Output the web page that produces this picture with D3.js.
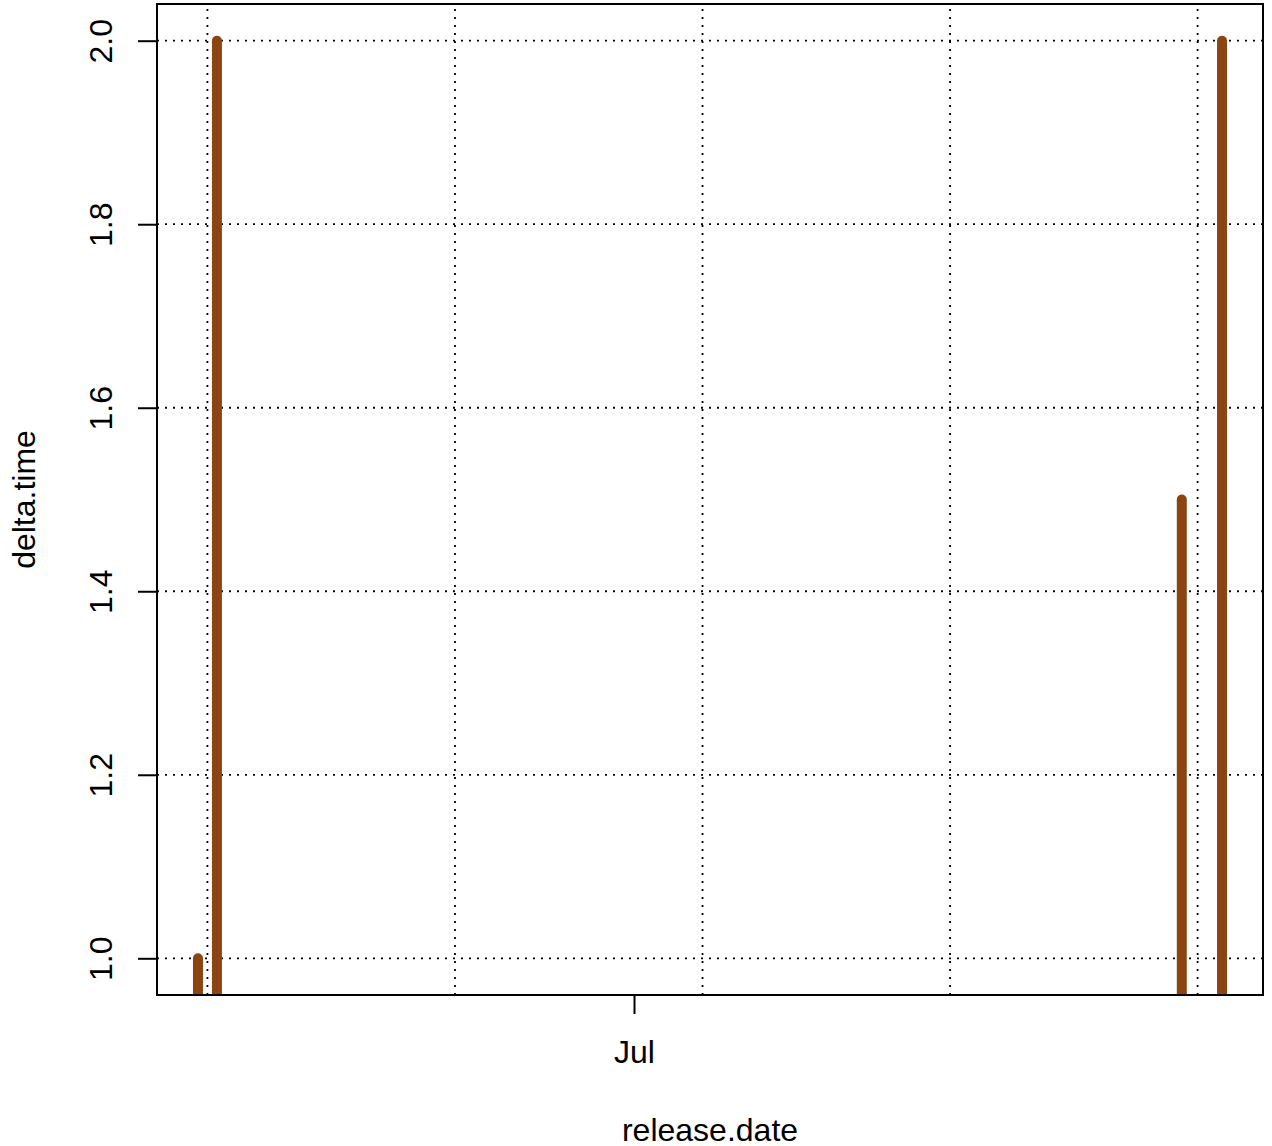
<!DOCTYPE html>
<html>
<head>
<meta charset="utf-8">
<script src="https://cdn.jsdelivr.net/npm/d3@7"></script>
<style>
  html, body { margin: 0; padding: 0; background: #ffffff; }
  svg { display: block; }
  text { font-family: "Liberation Sans", Arial, Helvetica, sans-serif; fill: #000; }
</style>
</head>
<body>
<svg id="chart" width="1272" height="1146"></svg>
<script>
// ---- data ----
const releaseDates = [
  "2015-06-10T18:43:00Z",
  "2015-06-11T16:00:00Z",
  "2015-07-26T18:40:00Z",
  "2015-07-28T15:50:00Z"
];
const deltaTime = [1, 2, 1.5, 2];

const yTickValues = [1.0, 1.2, 1.4, 1.6, 1.8, 2.0];
const xTickDates = ["2015-07-01T00:00:00-04:00"];
const xTickLabels = ["Jul"];

const xLabel = "release.date";
const yLabel = "delta.time";

// ---- layout ----
const W = 1272, H = 1146;
const plot = { left: 157, right: 1263, top: 4, bottom: 995 };
const barColor = "#8B4513";

const svg = d3.select("#chart");

const dates = releaseDates.map(d => new Date(d));
const tMin = d3.min(dates).getTime(), tMax = d3.max(dates).getTime();
const tPad = (tMax - tMin) * 0.04;
const x = d3.scaleTime()
  .domain([new Date(tMin - tPad), new Date(tMax + tPad)])
  .range([plot.left, plot.right]);

const yMin = d3.min(deltaTime), yMax = d3.max(deltaTime);
const yPad = (yMax - yMin) * 0.04;
const y = d3.scaleLinear()
  .domain([yMin - yPad, yMax + yPad])
  .range([plot.bottom, plot.top]);

// clip path for plot region
svg.append("defs").append("clipPath").attr("id", "clip")
  .append("rect")
  .attr("x", plot.left).attr("y", plot.top)
  .attr("width", plot.right - plot.left)
  .attr("height", plot.bottom - plot.top);

// grid: vertical lines at numeric (seconds) pretty ticks, as R's grid() does
const secDomain = x.domain().map(d => d.getTime() / 1000);
const gridSecs = d3.ticks(secDomain[0], secDomain[1], 5);
const grid = svg.append("g").attr("clip-path", "url(#clip)");
grid.selectAll("line.vg").data(gridSecs).enter().append("line")
  .attr("class", "vg")
  .attr("x1", d => x(new Date(d * 1000))).attr("x2", d => x(new Date(d * 1000)))
  .attr("y1", plot.bottom).attr("y2", plot.top)
  .attr("stroke", "#000").attr("stroke-width", 1.8)
  .attr("stroke-dasharray", "2,6");
grid.selectAll("line.hg").data(yTickValues).enter().append("line")
  .attr("class", "hg")
  .attr("x1", plot.left).attr("x2", plot.right)
  .attr("y1", d => y(d)).attr("y2", d => y(d))
  .attr("stroke", "#000").attr("stroke-width", 1.8)
  .attr("stroke-dasharray", "2,6");

// bars (type = "h")
const bars = svg.append("g").attr("clip-path", "url(#clip)");
bars.selectAll("line.bar").data(dates.map((d, i) => ({ d, v: deltaTime[i] })))
  .enter().append("line")
  .attr("class", "bar")
  .attr("x1", d => x(d.d)).attr("x2", d => x(d.d))
  .attr("y1", y(0)).attr("y2", d => y(d.v))
  .attr("stroke", barColor).attr("stroke-width", 10)
  .attr("stroke-linecap", "round");

// box
svg.append("rect")
  .attr("x", plot.left).attr("y", plot.top)
  .attr("width", plot.right - plot.left)
  .attr("height", plot.bottom - plot.top)
  .attr("fill", "none").attr("stroke", "#000").attr("stroke-width", 2);

// y axis
const yAxis = d3.axisLeft(y).tickValues(yTickValues).tickSize(19).tickPadding(0)
  .tickFormat(d3.format(".1f"));
const gy = svg.append("g").attr("transform", `translate(${plot.left},0)`).call(yAxis);
gy.select(".domain").attr("d", `M0,${y(yTickValues[0])}V${y(yTickValues[yTickValues.length - 1])}`)
  .attr("stroke", "#000").attr("stroke-width", 2);
gy.selectAll(".tick line").attr("stroke", "#000").attr("stroke-width", 2);
gy.selectAll(".tick text")
  .attr("x", 0).attr("dy", null).attr("y", 0)
  .attr("transform", `translate(${112 - plot.left},0) rotate(-90)`)
  .attr("text-anchor", "middle")
  .attr("font-size", 32)
  .attr("font-family", "Liberation Sans, Arial, sans-serif");

// x axis
const xTicks = xTickDates.map(d => new Date(d));
const xAxis = d3.axisBottom(x).tickValues(xTicks).tickSize(19).tickPadding(0)
  .tickFormat((d, i) => xTickLabels[i]);
const gx = svg.append("g").attr("transform", `translate(0,${plot.bottom})`).call(xAxis);
gx.select(".domain").remove();
gx.selectAll(".tick line").attr("stroke", "#000").attr("stroke-width", 2);
gx.selectAll(".tick text")
  .attr("y", 1063 - plot.bottom).attr("dy", null)
  .attr("font-size", 32)
  .attr("font-family", "Liberation Sans, Arial, sans-serif");

// axis titles
svg.append("text")
  .attr("x", (plot.left + plot.right) / 2).attr("y", 1141)
  .attr("text-anchor", "middle").attr("font-size", 32)
  .text(xLabel);
svg.append("text")
  .attr("transform", `translate(35,${(plot.top + plot.bottom) / 2}) rotate(-90)`)
  .attr("text-anchor", "middle").attr("font-size", 32)
  .text(yLabel);
</script>
</body>
</html>
